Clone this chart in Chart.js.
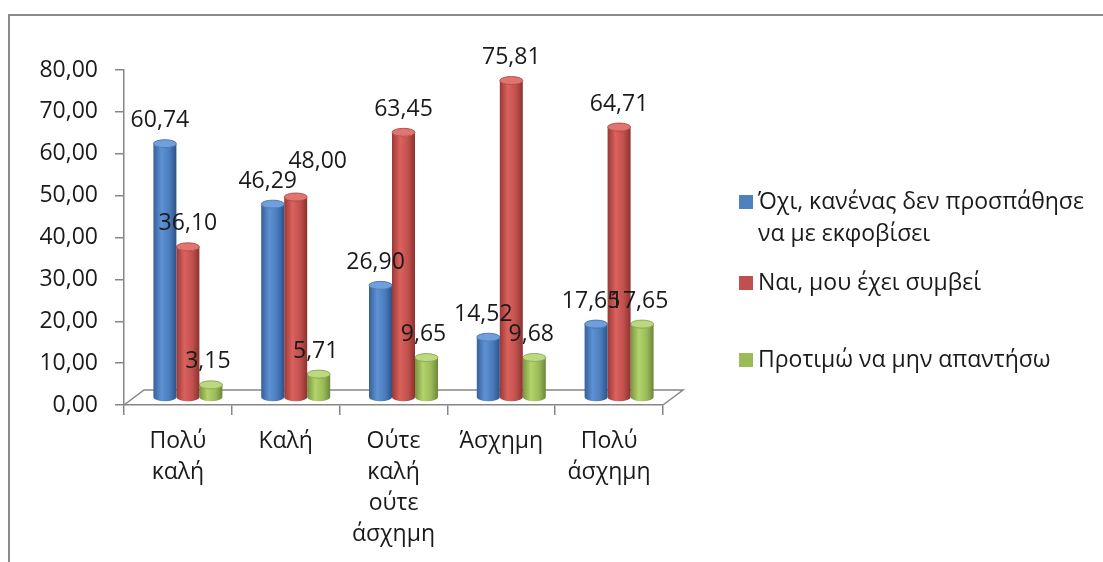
<!DOCTYPE html>
<html lang="el">
<head>
<meta charset="utf-8">
<title>Εκφοβισμός</title>
<script src="https://cdn.jsdelivr.net/npm/chart.js@4.4.1/dist/chart.umd.min.js"></script>
<style>
    html, body { margin: 0; padding: 0; background: #fff; overflow: hidden; }
    .wrapper { position: relative; width: 1103px; height: 562px; }
    .frame {
        position: absolute; left: 8px; top: 14px; width: 1200px; height: 700px;
        border: 2px solid #8a8a8a; box-sizing: border-box;
    }
    canvas { position: absolute; left: 0; top: 0; }
</style>
</head>
<body>
<div class="wrapper">
    <div class="frame"></div>
    <canvas id="chart" width="1103" height="562"></canvas>
</div>
<script>
const categories = [['Πολύ', 'καλή'], 'Καλή', ['Ούτε', 'καλή', 'ούτε', 'άσχημη'], 'Άσχημη', ['Πολύ', 'άσχημη']];
const seriesNames = [
    ['Όχι, κανένας δεν προσπάθησε', 'να με εκφοβίσει'],
    ['Ναι, μου έχει συμβεί'],
    ['Προτιμώ να μην απαντήσω'],
];
const noValues = [60.74, 46.29, 26.9, 14.52, 17.65];
const yesValues = [36.1, 48.0, 63.45, 75.81, 64.71];
const noAnswerValues = [3.15, 5.71, 9.65, 9.68, 17.65];
const yTicks = [0, 10, 20, 30, 40, 50, 60, 70, 80];

const FONT = '"Open Sans", "Noto Sans", sans-serif';
const TEXT_COLOR = '#1a1a1a';
const AXIS_COLOR = '#868686';
// depth offset of the 3D floor and of the cylinders standing on it
const DEPTH_X = 20;
const DEPTH_Y = 15;
const SHIFT_X = 10;
const SHIFT_Y = -7;

const palette = [
    { base: '#4f81bd', stops: ['#36609a', '#5e92d4', '#4a7cbd', '#2d5286'], cap: '#6f9fdc', capEdge: '#40689e' },
    { base: '#c0504d', stops: ['#9a3834', '#db625e', '#c0504d', '#8c3230'], cap: '#e27470', capEdge: '#a23f3c' },
    { base: '#9bbb59', stops: ['#789540', '#b3d36b', '#9bbb59', '#6c873a'], cap: '#bcd97f', capEdge: '#7f9c46' },
];
const labelNudge = [-5, 0, -3];

const formatValue = (v) => v.toFixed(2).replace('.', ',');

// floor of the 3D plot, drawn behind the cylinders
const floorPlugin = {
    id: 'floor',
    beforeDatasetsDraw(chart) {
        const { ctx, chartArea } = chart;
        const { left, right, bottom } = chartArea;
        ctx.save();
        ctx.strokeStyle = AXIS_COLOR;
        ctx.lineWidth = 1.5;
        ctx.beginPath();
        ctx.moveTo(left, bottom);
        ctx.lineTo(left + DEPTH_X, bottom - DEPTH_Y);
        ctx.lineTo(right + DEPTH_X, bottom - DEPTH_Y);
        ctx.lineTo(right, bottom);
        ctx.stroke();
        ctx.restore();
    },
};

// cylinders instead of flat rectangles
const cylinderPlugin = {
    id: 'cylinder',
    beforeDatasetDraw(chart, args) {
        const ctx = chart.ctx;
        const colors = palette[args.index];
        args.meta.data.forEach((bar) => {
            const { x, y, base, width } = bar.getProps(['x', 'y', 'base', 'width'], true);
            const cx = x + SHIFT_X;
            const rx = width / 2;
            const ry = 4;
            const top = y + SHIFT_Y;
            const bottom = base + SHIFT_Y;
            const l = cx - rx;
            const r = cx + rx;

            const grad = ctx.createLinearGradient(l, 0, r, 0);
            grad.addColorStop(0, colors.stops[0]);
            grad.addColorStop(0.35, colors.stops[1]);
            grad.addColorStop(0.7, colors.stops[2]);
            grad.addColorStop(1, colors.stops[3]);

            ctx.save();
            ctx.beginPath();
            ctx.moveTo(l, top);
            ctx.lineTo(l, bottom);
            ctx.ellipse(cx, bottom, rx, ry, 0, Math.PI, 0, true);
            ctx.lineTo(r, top);
            ctx.ellipse(cx, top, rx, ry, 0, 0, Math.PI, false);
            ctx.closePath();
            ctx.fillStyle = grad;
            ctx.fill();

            ctx.beginPath();
            ctx.ellipse(cx, top, rx, ry, 0, 0, Math.PI * 2);
            ctx.fillStyle = colors.cap;
            ctx.fill();
            ctx.strokeStyle = colors.capEdge;
            ctx.lineWidth = 0.8;
            ctx.stroke();
            ctx.restore();
        });
        return false;
    },
};

// value above each cylinder; a taller neighbour whose label would collide gets lifted
const valueLabelPlugin = {
    id: 'valueLabels',
    afterDatasetsDraw(chart) {
        const ctx = chart.ctx;
        ctx.save();
        ctx.font = '23px ' + FONT;
        ctx.fillStyle = TEXT_COLOR;
        ctx.textAlign = 'center';
        ctx.textBaseline = 'middle';
        const metas = chart.data.datasets.map((ds, i) => chart.getDatasetMeta(i));
        categories.forEach((cat, j) => {
            let prev = null;
            chart.data.datasets.forEach((ds, i) => {
                const bar = metas[i].data[j];
                const text = formatValue(ds.data[j]);
                const w = ctx.measureText(text).width;
                let x = bar.x + SHIFT_X + labelNudge[i];
                let y = bar.y + SHIFT_Y - 23;
                if (prev && ds.data[j] > prev.value && Math.abs(y - prev.y) < 20 && x - w / 2 < prev.x + prev.w / 2) {
                    y = prev.y - 20;
                    x += 22;
                }
                ctx.fillText(text, x, y);
                prev = { x, y, w, value: ds.data[j] };
            });
        });
        ctx.restore();
    },
};

// legend on the right, series names may span two lines
const sideLegendPlugin = {
    id: 'sideLegend',
    afterDraw(chart) {
        const ctx = chart.ctx;
        const rows = [202, 283, 360];
        ctx.save();
        ctx.font = '23px ' + FONT;
        ctx.textBaseline = 'middle';
        seriesNames.forEach((lines, i) => {
            const cy = rows[i];
            ctx.fillStyle = palette[i].base;
            ctx.fillRect(739, cy - 7, 14, 14);
            ctx.fillStyle = TEXT_COLOR;
            lines.forEach((line, k) => ctx.fillText(line, 758, cy + k * 32));
        });
        ctx.restore();
    },
};

const makeDataset = (i, data) => ({
    label: seriesNames[i].join(' '),
    data,
    backgroundColor: palette[i].base,
    categoryPercentage: 0.64,
    barPercentage: 1,
});

new Chart(document.getElementById('chart'), {
    type: 'bar',
    data: {
        labels: categories,
        datasets: [makeDataset(0, noValues), makeDataset(1, yesValues), makeDataset(2, noAnswerValues)],
    },
    options: {
        responsive: false,
        animation: false,
        layout: { padding: { top: 70, right: 440, left: 0, bottom: 0 } },
        plugins: {
            legend: { display: false },
            tooltip: { enabled: false },
        },
        scales: {
            x: {
                grid: { offset: true, drawOnChartArea: false, tickLength: 10, color: AXIS_COLOR, lineWidth: 1.5 },
                border: { display: true, color: AXIS_COLOR, width: 1.5 },
                ticks: {
                    color: TEXT_COLOR,
                    padding: 11,
                    maxRotation: 0,
                    autoSkip: false,
                    font: { family: FONT, size: 23, lineHeight: 1.35 },
                },
                afterFit: (scale) => { scale.height = 157; },
            },
            y: {
                min: 0,
                max: 80,
                afterBuildTicks: (scale) => { scale.ticks = yTicks.map((v) => ({ value: v })); },
                grid: { drawOnChartArea: false, tickLength: 9, color: AXIS_COLOR, lineWidth: 1.5 },
                border: { display: true, color: AXIS_COLOR, width: 1.5 },
                ticks: {
                    color: TEXT_COLOR,
                    padding: 17,
                    font: { family: FONT, size: 23 },
                    callback: (v) => formatValue(v),
                },
                afterFit: (scale) => { scale.width = 124; },
            },
        },
    },
    plugins: [floorPlugin, cylinderPlugin, valueLabelPlugin, sideLegendPlugin],
});
</script>
</body>
</html>
